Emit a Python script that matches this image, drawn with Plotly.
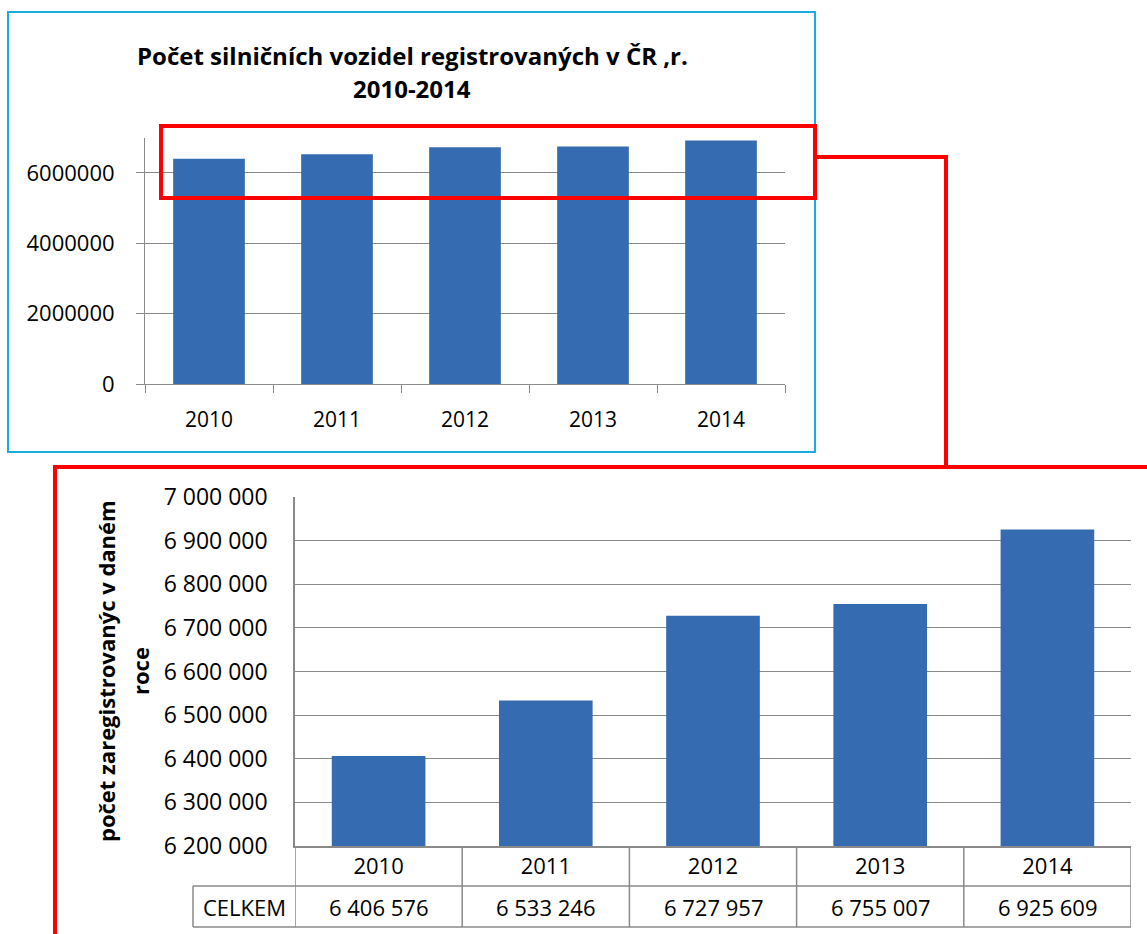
import plotly.graph_objects as go

# ---- data ----
years = ["2010", "2011", "2012", "2013", "2014"]
vehicles = [6406576, 6533246, 6727957, 6755007, 6925609]
top_title_line1 = "Počet silničních vozidel registrovaných v ČR ,r."
top_title_line2 = "2010-2014"
bottom_ytitle_line1 = "počet zaregistrovanýc v daném"
bottom_ytitle_line2 = "roce"
table_row_label = "CELKEM"
top_yticks = [0, 2000000, 4000000, 6000000]
bottom_yticks = [6200000, 6300000, 6400000, 6500000, 6600000, 6700000, 6800000, 6900000, 7000000]

W, H = 1147, 934
FONT = "Open Sans, Lato, sans-serif"
BAR = "#356BB1"
GRID = "#8A8A8A"
RED = "#FF0000"
CYAN = "#1BAAE1"


def X(px):
    return px / W


def Y(py):
    return 1 - py / H


fig = go.Figure()

fig.add_trace(go.Bar(x=years, y=vehicles, marker=dict(color=BAR, line=dict(width=0)),
                     xaxis="x", yaxis="y", showlegend=False, hoverinfo="x+y"))
fig.add_trace(go.Bar(x=years, y=vehicles, marker=dict(color=BAR, line=dict(width=0)),
                     xaxis="x2", yaxis="y2", showlegend=False, hoverinfo="x+y"))

# top chart geometry
tx0, tx1 = 145, 785
ty_top, ty_bot = 137.8, 384
# bottom chart geometry
bx0, bx1 = 295, 1131
by_top, by_bot = 497, 846

fig.update_layout(
    width=W, height=H,
    margin=dict(l=0, r=0, t=0, b=0, pad=0, autoexpand=False),
    paper_bgcolor="white", plot_bgcolor="white",
    font=dict(family=FONT, color="black"),
    separators=", ",
    bargap=0.44,
    xaxis=dict(domain=[X(tx0), X(tx1)], type="category", showline=True, linecolor=GRID, linewidth=1,
               ticks="outside", ticklen=8, tickcolor=GRID, tickson="boundaries", showgrid=False,
               tickfont=dict(size=21), ticklabelstandoff=17, fixedrange=True, automargin=False),
    yaxis=dict(domain=[Y(ty_bot), Y(ty_top)], range=[0, 7000000], tickvals=top_yticks,
               tickformat="d", showline=True, linecolor=GRID, linewidth=1, ticks="outside",
               ticklen=8, tickcolor=GRID, showgrid=True, gridcolor=GRID, gridwidth=1,
               zeroline=False, tickfont=dict(size=22), ticklabelstandoff=17, fixedrange=True,
               automargin=False),
    xaxis2=dict(domain=[X(bx0), X(bx1)], type="category", range=[-0.5, 4.5], showline=True,
                linecolor=GRID, linewidth=1.5, ticks="", showgrid=False,
                tickfont=dict(size=22), ticklabelstandoff=0, fixedrange=True, anchor="y2",
                automargin=False),
    yaxis2=dict(domain=[Y(by_bot), Y(by_top)], range=[6200000, 7000000], tickvals=bottom_yticks,
                tickformat=",d", showline=True, linecolor=GRID, linewidth=1.5, ticks="",
                showgrid=True, gridcolor=GRID, gridwidth=1.2, zeroline=False,
                tickfont=dict(size=23), ticklabelstandoff=21, fixedrange=True, anchor="x2",
                automargin=False),
)

shapes = []
# cyan frame around top chart
shapes.append(dict(type="rect", xref="paper", yref="paper", x0=X(8), x1=X(815), y0=Y(12), y1=Y(452),
                   line=dict(color=CYAN, width=2), layer="below"))
# red highlight rectangle on top chart
shapes.append(dict(type="rect", xref="paper", yref="paper", x0=X(161), x1=X(815), y0=Y(126), y1=Y(198),
                   line=dict(color=RED, width=4), layer="above"))
# connector
shapes.append(dict(type="path", xref="paper", yref="paper",
                   path=f"M {X(815)},{Y(157)} L {X(946)},{Y(157)} L {X(946)},{Y(467)}",
                   line=dict(color=RED, width=4), layer="above"))
# bottom red frame
shapes.append(dict(type="rect", xref="paper", yref="paper", x0=X(55), x1=X(1155), y0=Y(467), y1=Y(945),
                   line=dict(color=RED, width=4), layer="above"))

# data table lines
row_mid, row_bot = 886, 927
tbl_left = 193
shapes.append(dict(type="line", xref="paper", yref="paper", x0=X(tbl_left), x1=X(bx1), y0=Y(row_mid), y1=Y(row_mid),
                   line=dict(color=GRID, width=1.5)))
shapes.append(dict(type="line", xref="paper", yref="paper", x0=X(tbl_left), x1=X(bx1), y0=Y(row_bot), y1=Y(row_bot),
                   line=dict(color=GRID, width=1.5)))
shapes.append(dict(type="line", xref="paper", yref="paper", x0=X(tbl_left), x1=X(tbl_left), y0=Y(row_mid), y1=Y(row_bot),
                   line=dict(color=GRID, width=1.5)))
for i in range(len(years) + 1):
    shapes.append(dict(type="line", xref="x2", yref="paper", x0=i - 0.5, x1=i - 0.5, y0=Y(by_bot), y1=Y(row_bot),
                       line=dict(color=GRID, width=1.5)))
fig.update_layout(shapes=shapes)

ann = []
ann.append(dict(text=f"<b>{top_title_line1}</b>", xref="paper", yref="paper", x=X(412), y=Y(55),
                showarrow=False, font=dict(size=24), xanchor="center", yanchor="middle"))
ann.append(dict(text=f"<b>{top_title_line2}</b>", xref="paper", yref="paper", x=X(412), y=Y(88),
                showarrow=False, font=dict(size=24), xanchor="center", yanchor="middle"))
ann.append(dict(text=f"<b>{bottom_ytitle_line1}</b>", xref="paper", yref="paper", x=X(106), y=Y(671),
                showarrow=False, font=dict(size=22), textangle=-90, xanchor="center", yanchor="middle"))
ann.append(dict(text=f"<b>{bottom_ytitle_line2}</b>", xref="paper", yref="paper", x=X(140), y=Y(671),
                showarrow=False, font=dict(size=22), textangle=-90, xanchor="center", yanchor="middle"))
ann.append(dict(text=table_row_label, xref="paper", yref="paper", x=X((tbl_left + bx0) / 2), y=Y(907),
                showarrow=False, font=dict(size=22), xanchor="center", yanchor="middle"))
for i, v in enumerate(vehicles):
    ann.append(dict(text=f"{v:,}".replace(",", " "), xref="x2", yref="paper", x=i, y=Y(907),
                    showarrow=False, font=dict(size=22), xanchor="center", yanchor="middle"))
fig.update_layout(annotations=ann)

fig.write_html("out.html", config={"displayModeBar": False},
               post_script="document.body.style.margin='0';document.body.style.overflow='hidden';")
